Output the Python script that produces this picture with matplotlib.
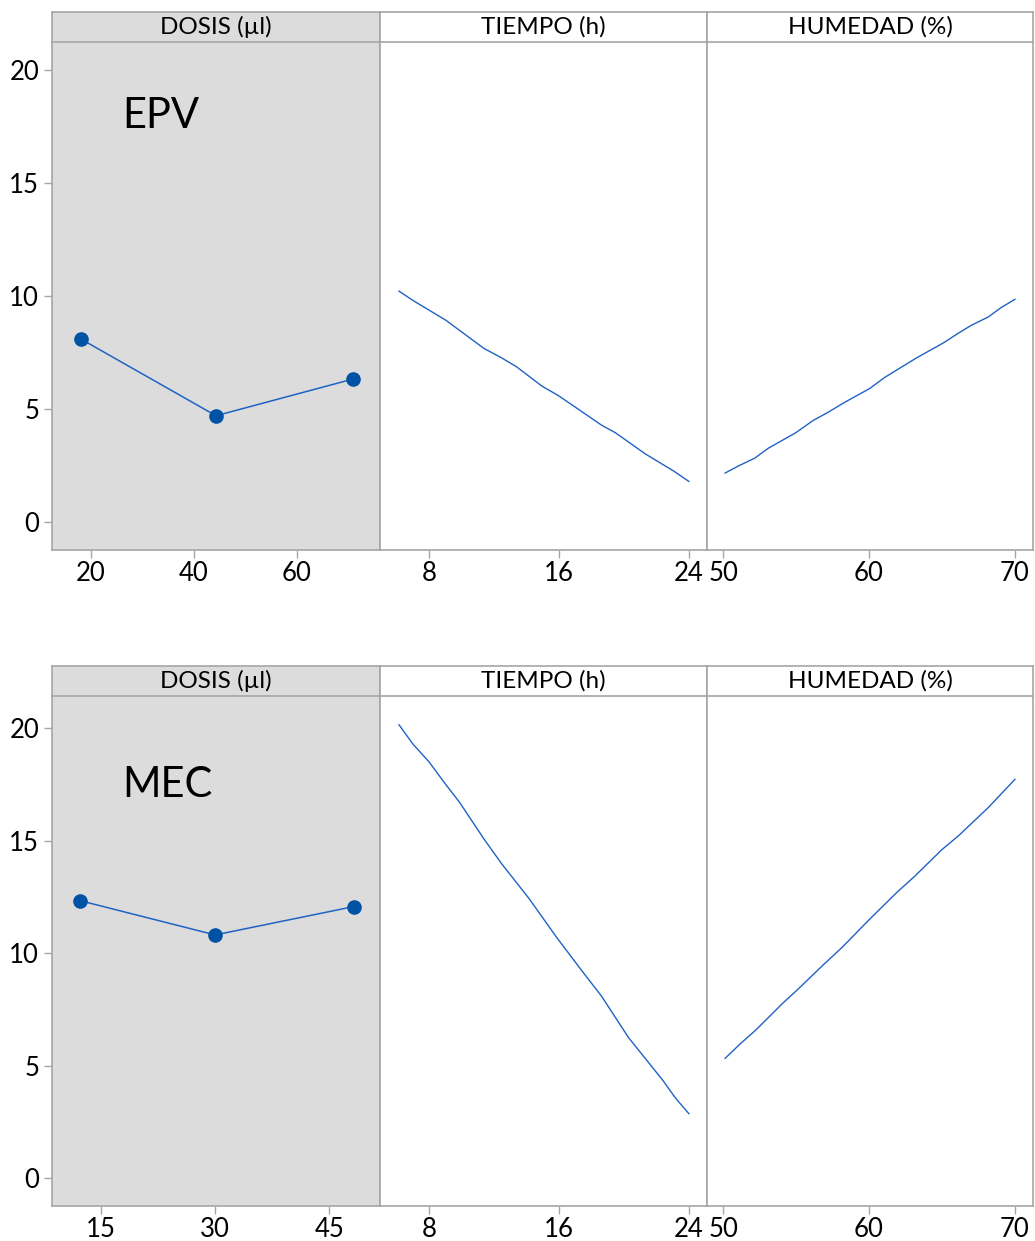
import matplotlib
matplotlib.use('Agg')
import matplotlib.pyplot as plt

plt.rcParams['font.family'] = ['Lato', 'DejaVu Sans']

# --- EPV (top row) ---
epv_dosis_x = [18.1, 44.3, 70.9]
epv_dosis_y = [8.09, 4.69, 6.32]
epv_tiempo_x = [6.15, 7.01, 9.04, 11.39, 12.48, 13.39, 14.96, 15.95, 16.91, 18.61, 19.47, 21.34, 23.11, 24.0]
epv_tiempo_y = [10.21, 9.80, 8.92, 7.67, 7.25, 6.86, 6.00, 5.59, 5.12, 4.28, 3.94, 2.99, 2.22, 1.78]
epv_hum_x = [50.14, 51.07, 52.17, 53.10, 54.99, 56.15, 57.16, 58.32, 60.06, 61.08, 63.25, 65.13, 66.15,
             67.02, 68.18, 69.05, 70.0]
epv_hum_y = [2.15, 2.47, 2.81, 3.25, 3.94, 4.47, 4.83, 5.28, 5.90, 6.39, 7.25, 7.93, 8.36,
             8.70, 9.07, 9.48, 9.85]

# --- MEC (bottom row) ---
mec_dosis_x = [12.3, 30.0, 48.2]
mec_dosis_y = [12.33, 10.81, 12.07]
mec_tiempo_x = [6.15, 7.01, 8.0, 8.96, 9.88, 11.39, 12.48, 14.18, 15.87, 17.43, 18.61, 20.30, 22.39, 23.17, 24.0]
mec_tiempo_y = [20.16, 19.30, 18.51, 17.57, 16.71, 15.07, 13.97, 12.41, 10.69, 9.20, 8.10, 6.23, 4.35, 3.56, 2.86]
mec_hum_x = [50.14, 51.22, 52.23, 54.12, 55.13, 56.87, 58.18, 60.06, 61.94, 63.10, 64.99, 66.15, 68.18, 70.0]
mec_hum_y = [5.32, 5.99, 6.57, 7.79, 8.39, 9.48, 10.27, 11.52, 12.72, 13.40, 14.60, 15.23, 16.48, 17.73]

headers = ['DOSIS (µl)', 'TIEMPO (h)', 'HUMEDAD (%)']
yticks = [0, 5, 10, 15, 20]
tiempo_ticks = [8, 16, 24]
hum_ticks = [50, 60, 70]

GRAY = '#dcdcdc'
EDGE = '#a6a6a6'
LINE = '#1f62c4'
MARK = '#0052a5'

W, H = 1035, 1241
fig = plt.figure(figsize=(W / 100, H / 100), dpi=100)

col_edges = [52.3, 380, 707, 1033]


def px_axes(x0, x1, ytop, ybot):
    return fig.add_axes([x0 / W, 1 - ybot / H, (x1 - x0) / W, (ybot - ytop) / H])


def draw_row(ytop, yhead, ybot, ylim, dosis_x, dosis_y, dosis_xlim, dosis_ticks,
             tx, ty, hx, hy, label, label_y):
    xlims = [dosis_xlim, (4.98, 25.12), (48.9, 71.24)]
    xticks = [dosis_ticks, tiempo_ticks, hum_ticks]
    for i in range(3):
        x0, x1 = col_edges[i], col_edges[i + 1]
        ax = px_axes(x0, x1, yhead, ybot)
        ax.set_xlim(*xlims[i])
        ax.set_ylim(*ylim)
        ax.set_facecolor(GRAY if i == 0 else 'white')
        for s in ax.spines.values():
            s.set_color(EDGE)
            s.set_linewidth(1.2)
        ax.spines['top'].set_visible(False)
        ax.tick_params(axis='both', colors=EDGE, labelcolor='black', labelsize=18.5,
                       length=6, width=1.0)
        ax.tick_params(axis='x', pad=2)
        ax.set_xticks(xticks[i])
        if i == 0:
            ax.set_yticks(yticks)
        else:
            ax.set_yticks([])
        if i == 0:
            ax.plot(dosis_x, dosis_y, color=LINE, lw=1.1, marker='o', ms=9.5,
                    markerfacecolor=MARK, markeredgecolor=MARK)
            ax.text(0.213, label_y, label, transform=ax.transAxes, fontsize=30,
                    ha='left', va='center')
        elif i == 1:
            ax.plot(tx, ty, color=LINE, lw=1.0)
        else:
            ax.plot(hx, hy, color=LINE, lw=1.0)

        # strip header
        hax = px_axes(x0, x1, ytop, yhead)
        hax.set_facecolor(GRAY if i == 0 else 'white')
        hax.set_xticks([])
        hax.set_yticks([])
        for s in hax.spines.values():
            s.set_color(EDGE)
            s.set_linewidth(1.2)
        hax.text(0.5, 0.5, headers[i], transform=hax.transAxes, ha='center',
                 va='center', fontsize=17.5)


draw_row(12.3, 42.3, 550, (-1.26, 21.24), epv_dosis_x, epv_dosis_y, (12.56, 76.09), [20, 40, 60],
         epv_tiempo_x, epv_tiempo_y, epv_hum_x, epv_hum_y, 'EPV', 0.855)
draw_row(666, 696, 1206, (-1.25, 21.44), mec_dosis_x, mec_dosis_y, (8.6, 51.66), [15, 30, 45],
         mec_tiempo_x, mec_tiempo_y, mec_hum_x, mec_hum_y, 'MEC', 0.825)

fig.savefig('out.png', dpi=100)
